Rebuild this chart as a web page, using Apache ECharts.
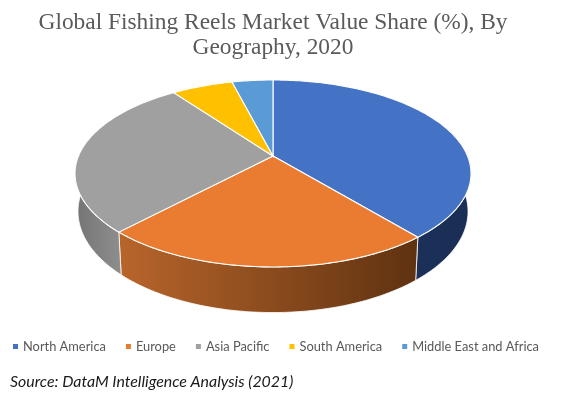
<!DOCTYPE html>
<html>
<head>
<meta charset="utf-8">
<style>html,body{margin:0;padding:0;background:#fff}#main{width:574px;height:395px}</style>
</head>
<body>
<div id="main"></div>
<script src="https://cdn.jsdelivr.net/npm/echarts@6/dist/echarts.min.js"></script>
<script>
// Global Fishing Reels Market Value Share, tilted 3D pie
var categories = ['North America', 'Europe', 'Asia Pacific', 'South America', 'Middle East and Africa'];
var shares = [39, 23, 28, 6, 4];
var colors = ['#4472c4', '#e97c30', '#a0a0a0', '#ffc000', '#5b9bd5'];

// side wall shading, left/right stops across the visible width of each slice
var wallStops = [
    ['#1b3058', '#1a2e55', 415, 471],
    ['#b8652b', '#5f3210', 120, 417],
    ['#767676', '#909090', 78, 125],
    ['#7f6000', '#7f6000', 175, 234],
    ['#2c5a85', '#2c5a85', 234, 273]
];

// perspective of the disc
var hubX = 273, hubY = 156, radX = 194.5, radY = 90.2, persp = 0.187;
// the lower rim sits lower and looks a bit rounder than the top one
var lowerDy = 36.5, lowerScaleX = 0.985, lowerScaleY = 1.082;

function rimPoint(deg, sx, sy, dy) {
    var a = deg * Math.PI / 180;
    var u = Math.sin(a), v = -Math.cos(a);
    var w = 1 - persp * v;
    return [hubX + sx * radX * u / w, hubY + dy + sy * radY * v / w];
}

function arcPoints(from, to, sx, sy, dy) {
    var pts = [];
    for (var d = from; d < to; d += 1) {
        pts.push(rimPoint(d, sx, sy, dy));
    }
    pts.push(rimPoint(to, sx, sy, dy));
    return pts;
}

function makeRender(i) {
    return function (params, api) {
        var from = api.value(0), to = api.value(1);
        var top = arcPoints(from, to, 1, 1, 0);
        var bottom = arcPoints(from, to, lowerScaleX, lowerScaleY, lowerDy).reverse();
        var s = wallStops[i];
        return {
            type: 'group',
            children: [
                {
                    type: 'polygon',
                    z2: 1,
                    shape: { points: top.concat(bottom) },
                    style: {
                        fill: {
                            type: 'linear', global: true,
                            x: s[2], y: 0, x2: s[3], y2: 0,
                            colorStops: [{ offset: 0, color: s[0] }, { offset: 1, color: s[1] }]
                        },
                        stroke: '#ffffff',
                        lineWidth: 0.8
                    }
                },
                {
                    type: 'polygon',
                    z2: 10,
                    shape: { points: [[hubX, hubY]].concat(top) },
                    style: { fill: colors[i], stroke: '#ffffff', lineWidth: 1.1 }
                }
            ]
        };
    };
}

var total = shares.reduce(function (a, b) { return a + b; }, 0);
var running = 0;
var series = categories.map(function (name, i) {
    var from = running / total * 360;
    running += shares[i];
    var to = running / total * 360;
    return {
        name: name,
        type: 'custom',
        coordinateSystem: 'none',
        silent: true,
        itemStyle: { color: colors[i] },
        data: [[from, to, shares[i]]],
        renderItem: makeRender(i)
    };
});

var chart = echarts.init(document.getElementById('main'));
var option = {
    animation: false,
    title: [
        {
            text: 'Global Fishing Reels Market Value Share (%), By\nGeography, 2020',
            left: 268,
            top: 6,
            textAlign: 'center',
            textStyle: {
                fontFamily: 'Liberation Serif',
                fontWeight: 'normal',
                fontSize: 23.4,
                lineHeight: 24.5,
                color: '#5a5a5a'
            }
        },
        {
            text: 'Source: DataM Intelligence Analysis (2021)',
            left: 5,
            top: 369,
            textStyle: {
                fontFamily: 'Lato',
                fontStyle: 'italic',
                fontWeight: 'normal',
                fontSize: 15.9,
                color: '#1a1a1a'
            }
        }
    ],
    legend: {
        data: categories,
        left: 8,
        top: 335,
        icon: 'rect',
        itemWidth: 5,
        itemHeight: 5,
        itemGap: 20,
        textStyle: { fontFamily: 'Lato', fontSize: 12.85, color: '#595959' }
    },
    series: series
};

chart.setOption(option);
</script>
</body>
</html>
